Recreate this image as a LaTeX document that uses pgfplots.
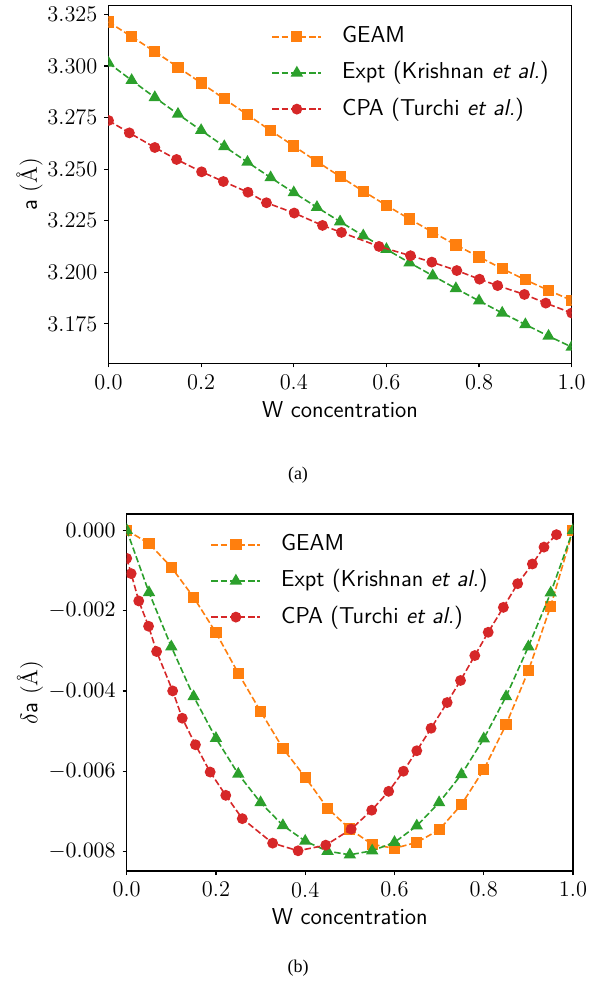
\documentclass[border=0pt]{standalone}
\usepackage{fontspec}
\usepackage{pgfplots}
\pgfplotsset{compat=1.18}
\newfontfamily\capfont{Liberation Serif}
\definecolor{tabor}{HTML}{FF7F0E}
\definecolor{tabgr}{HTML}{2CA02C}
\definecolor{tabrd}{HTML}{D62728}

\pgfplotsset{
  mystyle/.style={
    scale only axis,
    xmin=0, xmax=1,
    axis line style={line width=0.6pt, black},
    tick align=outside,
    tick pos=left,
    major tick length=2pt,
    tick style={line width=0.6pt, black},
    ticklabel style={font=\fontsize{11.2}{13}\selectfont},
    label style={font=\fontsize{11.5}{14}\selectfont},
    xtick={0,0.2,0.4,0.6,0.8,1},
    xticklabels={0.0,0.2,0.4,0.6,0.8,1.0},
    xlabel={\sffamily W concentration},
    xlabel style={at={(axis description cs:0.5,-0.151)}, anchor=base},
    scaled y ticks=false,
    clip marker paths=true,
    legend style={draw=none, fill=none, inner sep=0pt, outer sep=0pt, anchor=north west,
      font=\fontsize{11.5}{14}\sffamily\selectfont, row sep=7.1pt, column sep=10pt,
      nodes={inner sep=0pt, text height=8.5pt, text depth=2.5pt}},
    legend cell align=left,
    legend image code/.code={\draw[mark repeat=2,mark phase=2] plot coordinates {(0pt,0pt) (12.25pt,0pt) (24.5pt,0pt)};},
    every axis plot/.append style={line width=0.8pt, dash pattern=on 3.2pt off 1.4pt},
  },
  geam/.style={color=tabor, mark=square*, mark size=2.4pt, mark options={solid}},
  expt/.style={color=tabgr, mark=triangle*, mark size=2.8pt, mark options={solid}},
  cpa/.style={color=tabrd, mark=*, mark size=2.3pt, mark options={solid}},
}

\begin{document}
\begin{tikzpicture}
\useasboundingbox (0,0) rectangle (301pt,-498pt);

% ---------------- (a) ----------------
\begin{axis}[mystyle,
  at={(54.25pt,-2.85pt)}, anchor=north west,
  width=231.6pt, height=178.8pt,
  ymin=3.1558, ymax=3.3293,
  ytick={3.175,3.2,3.225,3.25,3.275,3.3,3.325},
  yticklabels={3.175,3.200,3.225,3.250,3.275,3.300,3.325},
  ylabel={\sffamily a \rmfamily(\AA)},
  ylabel style={at={(axis description cs:-0.1706,0.5)}, anchor=center},
  legend style={at={(axis description cs:0.352,0.944)}},
]
\addplot[geam] coordinates {
(0,3.3214) (0.05,3.3143) (0.1,3.3070) (0.15,3.2995) (0.2,3.2918) (0.25,3.2841)
(0.3,3.2764) (0.35,3.2687) (0.4,3.2612) (0.45,3.2537) (0.5,3.2464) (0.55,3.2393)
(0.6,3.2324) (0.65,3.2258) (0.7,3.2194) (0.75,3.2132) (0.8,3.2074) (0.85,3.2017)
(0.9,3.1963) (0.95,3.1912) (1.0,3.1863)};
\addlegendentry{GEAM}
\addplot[expt] coordinates {
(0,3.3015) (0.05,3.2931) (0.1,3.2848) (0.15,3.2767) (0.2,3.2688) (0.25,3.2610)
(0.3,3.2534) (0.35,3.2459) (0.4,3.2386) (0.45,3.2315) (0.5,3.2245) (0.55,3.2177)
(0.6,3.2111) (0.65,3.2046) (0.7,3.1983) (0.75,3.1921) (0.8,3.1861) (0.85,3.1802)
(0.9,3.1746) (0.95,3.1690) (1.0,3.1637)};
\addlegendentry{Expt (Krishnan \textit{et al.})}
\addplot[cpa] coordinates {
(0,3.2736) (0.045,3.2676) (0.100,3.2605) (0.147,3.2547) (0.201,3.2487) (0.248,3.2440)
(0.301,3.2388) (0.341,3.2337) (0.401,3.2287) (0.462,3.2227) (0.503,3.2193) (0.584,3.2125)
(0.652,3.2080) (0.698,3.2049) (0.752,3.2008) (0.801,3.1966) (0.840,3.1935) (0.898,3.1892)
(0.944,3.1850) (1.0,3.1802)};
\addlegendentry{CPA (Turchi \textit{et al.})}
\end{axis}

% ---------------- (b) ----------------
\begin{axis}[mystyle,
  at={(63.35pt,-257pt)}, anchor=north west,
  width=223.15pt, height=178.5pt,
  ymin=-0.008484, ymax=0.000404,
  ytick={-0.008,-0.006,-0.004,-0.002,0},
  yticklabels={$-0.008$,$-0.006$,$-0.004$,$-0.002$,$0.000$},
  ylabel={$\delta$\sffamily a \rmfamily(\AA)},
  ylabel style={at={(axis description cs:-0.2168,0.5)}, anchor=center},
  legend style={at={(axis description cs:0.188,0.9448)}},
]
\addplot[geam] coordinates {
(0,0) (0.05,-0.00033) (0.1,-0.00092) (0.15,-0.00167) (0.2,-0.00255) (0.25,-0.00356)
(0.3,-0.00451) (0.35,-0.00543) (0.4,-0.00615) (0.45,-0.00692) (0.5,-0.00744) (0.55,-0.00782)
(0.6,-0.00792) (0.65,-0.00777) (0.7,-0.00746) (0.75,-0.00683) (0.8,-0.00596) (0.85,-0.00484)
(0.9,-0.00350) (0.95,-0.00189) (1.0,0)};
\addlegendentry{GEAM}
\addplot[expt] coordinates {
(0,0) (0.05,-0.00155) (0.1,-0.00290) (0.15,-0.00414) (0.2,-0.00518) (0.25,-0.00607)
(0.3,-0.00678) (0.35,-0.00735) (0.4,-0.00774) (0.45,-0.00799) (0.5,-0.00808) (0.55,-0.00798)
(0.6,-0.00777) (0.65,-0.00736) (0.7,-0.00678) (0.75,-0.00608) (0.8,-0.00519) (0.85,-0.00414)
(0.9,-0.00290) (0.95,-0.00156) (1.0,0)};
\addlegendentry{Expt (Krishnan \textit{et al.})}
\addplot[cpa] coordinates {
(0,-0.0007) (0.010,-0.00108) (0.027,-0.00176) (0.049,-0.00239) (0.067,-0.00302)
(0.103,-0.00400) (0.1245,-0.00468) (0.154,-0.00534) (0.187,-0.00602) (0.222,-0.00660)
(0.259,-0.00718) (0.327,-0.00779) (0.384,-0.00798) (0.446,-0.00784) (0.503,-0.00744)
(0.549,-0.00697) (0.587,-0.00650) (0.620,-0.00600) (0.650,-0.00549) (0.682,-0.00493)
(0.718,-0.00429) (0.748,-0.00374) (0.780,-0.00312) (0.810,-0.00254) (0.844,-0.00192)
(0.876,-0.00133) (0.909,-0.00084) (0.935,-0.00042) (0.963,-0.00011)};
\addlegendentry{CPA (Turchi \textit{et al.})}
\end{axis}

\node[font=\capfont\fontsize{9}{11}\selectfont] at (149pt,-237.5pt) {(a)};
\node[font=\capfont\fontsize{9}{11}\selectfont] at (149pt,-484pt) {(b)};
\end{tikzpicture}
\end{document}
